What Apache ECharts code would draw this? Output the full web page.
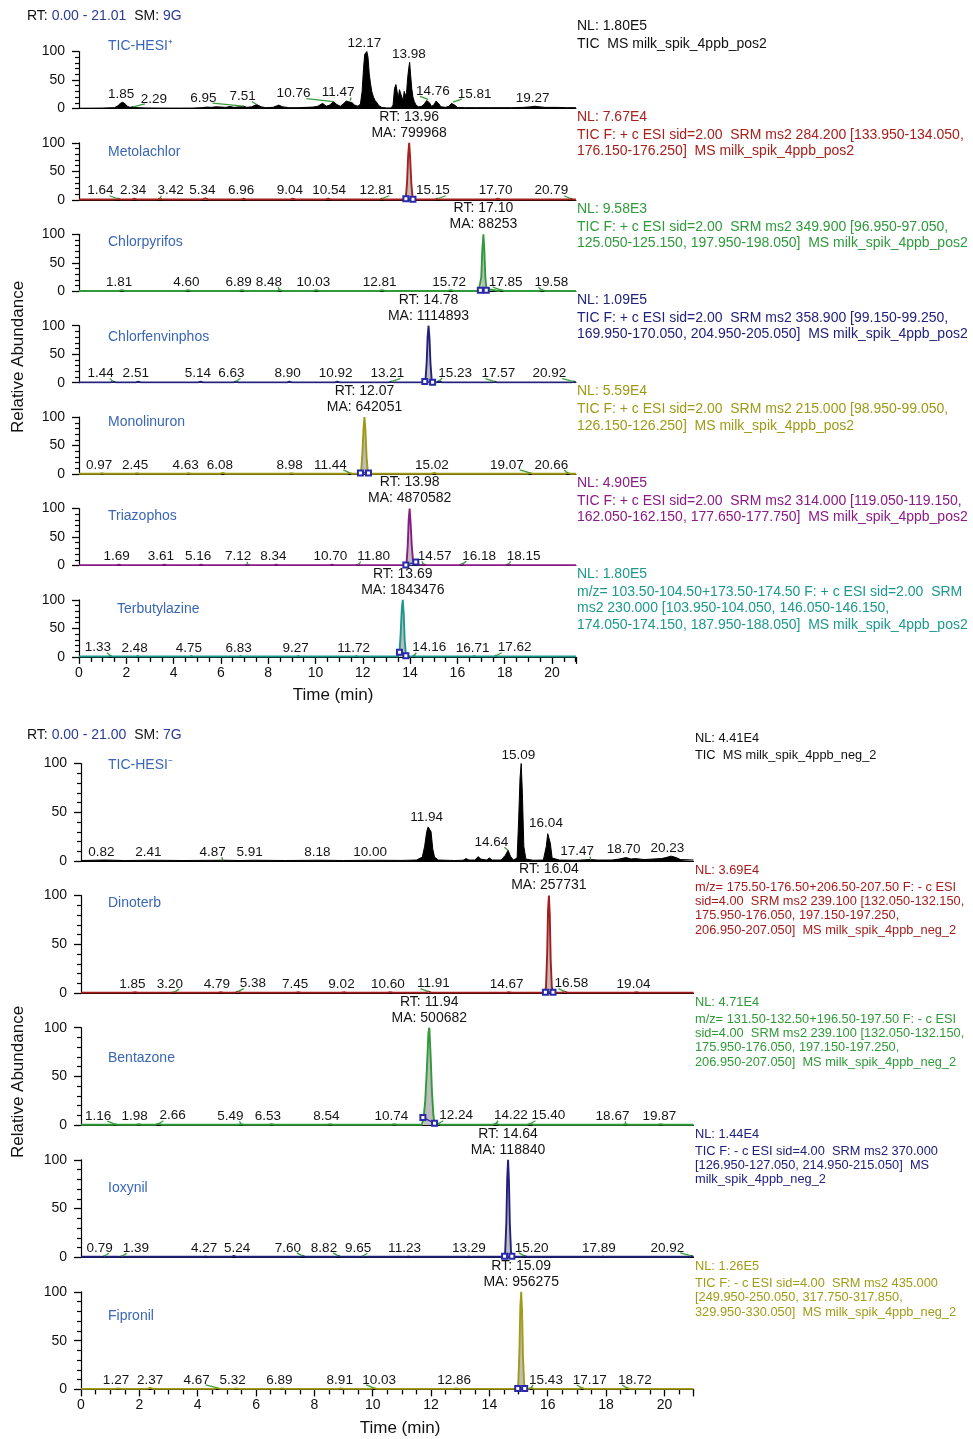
<!DOCTYPE html>
<html>
<head>
<meta charset="utf-8">
<script src="https://cdn.jsdelivr.net/npm/echarts@6/dist/echarts.min.js"></script>
<style>
  html, body { margin: 0; padding: 0; background: #fff; }
  #chart { width: 973px; height: 1439px; }
</style>
</head>
<body>
<div id="chart"></div>
<script>
// ---------- Positive-mode run (RT 0.00 - 21.01 min), relative abundance in % ----------
const ticPosPoints = [[0,0.5],[0.5,0.6],[1.0,0.8],[1.5,1.5],[1.65,5],[1.75,9],[1.85,11],[1.95,8],[2.05,4],[2.15,2],[2.29,3],[2.45,1.5],[2.8,1],[3.3,0.8],[3.8,0.7],[4.3,0.7],[4.8,0.8],[5.2,1.5],[5.4,2.5],[5.6,2],[5.8,3],[6.0,2.5],[6.2,2],[6.4,3.5],[6.55,2],[6.8,3],[6.95,4],[7.1,2],[7.3,3],[7.51,7],[7.7,3],[7.9,1.5],[8.2,2],[8.45,6],[8.6,3],[8.9,1.5],[9.3,1.5],[9.6,2],[9.9,2.5],[10.1,4],[10.3,9],[10.45,4],[10.6,6],[10.76,12],[10.9,7],[11.05,4],[11.2,9],[11.3,13],[11.4,12],[11.47,14],[11.55,10],[11.65,6],[11.8,4],[11.9,8],[11.97,30],[12.03,70],[12.08,95],[12.13,97],[12.17,100],[12.22,90],[12.27,62],[12.32,45],[12.38,30],[12.45,20],[12.52,14],[12.6,10],[12.68,5],[12.8,2],[13.0,1],[13.2,1],[13.28,6],[13.34,35],[13.4,42],[13.45,30],[13.5,18],[13.55,33],[13.6,36],[13.65,20],[13.7,14],[13.75,30],[13.8,22],[13.85,28],[13.9,55],[13.94,70],[13.98,81],[14.02,60],[14.07,35],[14.12,20],[14.18,12],[14.25,6],[14.35,3],[14.5,4],[14.6,8],[14.7,14],[14.76,16],[14.82,10],[14.9,4],[15.0,6],[15.1,13],[15.16,15],[15.22,8],[15.3,3],[15.5,2],[15.65,4],[15.75,9],[15.81,11],[15.88,6],[16.0,2],[16.3,1.5],[16.8,1.5],[17.3,1.5],[17.8,1.5],[18.3,1.5],[18.8,2],[19.1,3],[19.27,4],[19.45,3],[19.7,2],[20.2,2],[20.6,1.5],[21.01,1.5]];
const ticPosPeakRt = [1.85, 2.29, 6.95, 7.51, 10.76, 11.47, 12.17, 13.98, 14.76, 15.81, 19.27];

const metolachlorPoints = [[0,0.6],[1.5,0.6],[1.64,2],[1.8,0.6],[2.2,0.6],[2.34,2],[2.5,0.6],[3.3,0.6],[3.42,2],[3.55,0.6],[5.2,0.6],[5.34,2.5],[5.5,0.6],[6.85,0.6],[6.96,2],[7.1,0.6],[8.9,0.6],[9.04,2],[9.2,0.6],[10.4,0.6],[10.54,2],[10.7,0.6],[12.7,0.6],[12.81,2],[12.95,0.6],[13.75,0.6],[13.82,5],[13.87,30],[13.92,80],[13.96,100],[14.0,75],[14.05,30],[14.1,6],[14.16,0.6],[15.05,0.6],[15.15,2],[15.3,0.6],[17.6,0.6],[17.7,2],[17.85,0.6],[20.65,0.6],[20.79,2],[20.9,0.6],[21.01,0.6]];
const metolachlorPeakRt = [1.64, 2.34, 3.42, 5.34, 6.96, 9.04, 10.54, 12.81, 15.15, 17.70, 20.79];
const metolachlorMain = [13.96, 799968];
const metolachlorInteg = [[13.82, 2], [14.12, 1]];

const chlorpyrifosPoints = [[0,0.6],[1.7,0.6],[1.81,2],[1.95,0.6],[4.5,0.6],[4.60,2],[4.72,0.6],[6.78,0.6],[6.89,2],[7.0,0.6],[8.38,0.6],[8.48,2],[8.6,0.6],[9.92,0.6],[10.03,2],[10.15,0.6],[12.7,0.6],[12.81,2],[12.93,0.6],[15.6,0.6],[15.72,2],[15.85,0.6],[16.9,0.6],[16.96,4],[17.01,25],[17.05,70],[17.10,100],[17.14,70],[17.18,25],[17.23,4],[17.3,0.6],[17.75,0.6],[17.85,2],[17.97,0.6],[19.47,0.6],[19.58,2],[19.7,0.6],[21.01,0.6]];
const chlorpyrifosPeakRt = [1.81, 4.60, 6.89, 8.48, 10.03, 12.81, 15.72, 17.85, 19.58];
const chlorpyrifosMain = [17.10, 88253];
const chlorpyrifosInteg = [[16.97, 2], [17.22, 2]];

const chlorfenvinphosPoints = [[0,0.6],[1.34,0.6],[1.44,2],[1.56,0.6],[2.4,0.6],[2.51,2],[2.62,0.6],[5.03,0.6],[5.14,2],[5.25,0.6],[6.52,0.6],[6.63,2],[6.75,0.6],[8.8,0.6],[8.90,2],[9.0,0.6],[10.82,0.6],[10.92,2],[11.03,0.6],[13.1,0.6],[13.21,2],[13.32,0.6],[14.6,0.6],[14.65,5],[14.7,35],[14.74,80],[14.78,100],[14.82,78],[14.86,35],[14.91,6],[14.97,0.6],[15.12,0.6],[15.23,3],[15.35,0.6],[17.46,0.6],[17.57,2],[17.68,0.6],[20.82,0.6],[20.92,2],[21.01,0.6]];
const chlorfenvinphosPeakRt = [1.44, 2.51, 5.14, 6.63, 8.90, 10.92, 13.21, 15.23, 17.57, 20.92];
const chlorfenvinphosMain = [14.78, 1114893];
const chlorfenvinphosInteg = [[14.62, 2], [14.95, 1]];

const monolinuronPoints = [[0,0.6],[0.87,0.6],[0.97,1.5],[1.08,0.6],[2.35,0.6],[2.45,1.5],[2.56,0.6],[4.52,0.6],[4.63,1.5],[4.74,0.6],[5.97,0.6],[6.08,2],[6.2,0.6],[8.87,0.6],[8.98,1.5],[9.1,0.6],[11.33,0.6],[11.44,2],[11.55,0.6],[11.88,0.6],[11.93,5],[11.98,35],[12.03,80],[12.07,100],[12.11,78],[12.16,30],[12.21,5],[12.27,0.6],[14.91,0.6],[15.02,2],[15.14,0.6],[18.96,0.6],[19.07,2],[19.18,0.6],[20.55,0.6],[20.66,2],[20.78,0.6],[21.01,0.6]];
const monolinuronPeakRt = [0.97, 2.45, 4.63, 6.08, 8.98, 11.44, 15.02, 19.07, 20.66];
const monolinuronMain = [12.07, 642051];
const monolinuronInteg = [[11.9, 2], [12.24, 2]];

const triazophosPoints = [[0,0.6],[1.58,0.6],[1.69,1.5],[1.8,0.6],[3.5,0.6],[3.61,1.5],[3.72,0.6],[5.05,0.6],[5.16,1.5],[5.27,0.6],[7.01,0.6],[7.12,1.5],[7.23,0.6],[8.23,0.6],[8.34,1.5],[8.45,0.6],[10.59,0.6],[10.70,1.5],[10.81,0.6],[11.69,0.6],[11.80,1.5],[11.91,0.6],[13.8,0.6],[13.85,5],[13.9,35],[13.94,80],[13.98,100],[14.02,75],[14.07,35],[14.12,10],[14.18,3],[14.26,0.6],[14.46,0.6],[14.57,2],[14.68,0.6],[16.07,0.6],[16.18,2],[16.29,0.6],[18.04,0.6],[18.15,2],[18.26,0.6],[21.01,0.6]];
const triazophosPeakRt = [1.69, 3.61, 5.16, 7.12, 8.34, 10.70, 11.80, 14.57, 16.18, 18.15];
const triazophosMain = [13.98, 4870582];
const triazophosInteg = [[13.82, 1], [14.24, 6]];

const terbutylazinePoints = [[0,0.6],[1.22,0.6],[1.33,2],[1.44,0.6],[2.37,0.6],[2.48,1.5],[2.59,0.6],[4.64,0.6],[4.75,1.5],[4.86,0.6],[6.72,0.6],[6.83,1.5],[6.94,0.6],[9.16,0.6],[9.27,1.5],[9.38,0.6],[11.61,0.6],[11.72,1.5],[11.83,0.6],[13.5,0.6],[13.55,8],[13.6,40],[13.65,85],[13.69,100],[13.73,75],[13.77,30],[13.82,5],[13.88,0.6],[14.05,0.6],[14.16,2],[14.27,0.6],[16.6,0.6],[16.71,1.5],[16.82,0.6],[17.51,0.6],[17.62,2],[17.73,0.6],[21.01,0.6]];
const terbutylazinePeakRt = [1.33, 2.48, 4.75, 6.83, 9.27, 11.72, 14.16, 16.71, 17.62];
const terbutylazineMain = [13.69, 1843476];
const terbutylazineInteg = [[13.55, 8], [13.82, 2]];

// ---------- Negative-mode run (RT 0.00 - 21.00 min) ----------
const ticNegPoints = [[0,0.5],[0.82,1],[1.5,0.5],[2.41,0.8],[3.5,0.5],[4.87,0.8],[5.5,0.5],[5.91,0.8],[7,0.5],[8.18,0.8],[9,0.5],[10.0,0.8],[11.0,0.6],[11.5,1],[11.7,4],[11.78,15],[11.85,30],[11.9,35],[11.94,37],[12.0,30],[12.06,12],[12.12,4],[12.25,1],[12.8,0.5],[13.1,0.8],[13.2,2.5],[13.3,1],[13.5,1],[13.62,4.5],[13.7,2],[13.9,1],[14.0,3],[14.1,1],[14.4,1],[14.55,6],[14.64,11],[14.72,5],[14.82,1],[14.95,3],[15.0,40],[15.05,85],[15.09,100],[15.13,70],[15.18,15],[15.25,2],[15.5,0.8],[15.85,1],[15.95,15],[16.0,28],[16.04,30],[16.09,18],[16.15,3],[16.4,1],[17.0,0.8],[17.47,1.5],[17.7,1],[18.2,1],[18.45,2],[18.6,3],[18.70,3.5],[18.85,2],[19.0,2.5],[19.3,1.5],[19.6,2],[19.9,2.5],[20.05,3.5],[20.23,5],[20.4,3.5],[20.55,1.5],[21.0,1]];
const ticNegPeakRt = [0.82, 2.41, 4.87, 5.91, 8.18, 10.00, 11.94, 14.64, 15.09, 16.04, 17.47, 18.70, 20.23];

const dinoterbPoints = [[0,0.5],[1.75,0.5],[1.85,1],[1.95,0.5],[3.1,0.5],[3.20,1],[3.3,0.5],[4.69,0.5],[4.79,1],[4.89,0.5],[5.28,0.5],[5.38,1.5],[5.48,0.5],[7.35,0.5],[7.45,1],[7.55,0.5],[8.92,0.5],[9.02,1],[9.12,0.5],[10.5,0.5],[10.60,1],[10.7,0.5],[11.81,0.5],[11.91,1.5],[12.01,0.5],[14.57,0.5],[14.67,1],[14.77,0.5],[15.9,0.5],[15.94,6],[15.98,40],[16.01,85],[16.04,100],[16.07,80],[16.1,35],[16.14,6],[16.19,0.5],[16.48,0.5],[16.58,1.5],[16.68,0.5],[18.94,0.5],[19.04,1],[19.14,0.5],[21.0,0.5]];
const dinoterbPeakRt = [1.85, 3.20, 4.79, 5.38, 7.45, 9.02, 10.60, 11.91, 14.67, 16.58, 19.04];
const dinoterbMain = [16.04, 257731];
const dinoterbInteg = [[15.92, 1], [16.18, 1]];

const bentazonePoints = [[0,0.5],[1.06,0.5],[1.16,1],[1.26,0.5],[1.88,0.5],[1.98,1],[2.08,0.5],[2.56,0.5],[2.66,1.5],[2.76,0.5],[5.39,0.5],[5.49,1],[5.59,0.5],[6.43,0.5],[6.53,1],[6.63,0.5],[8.44,0.5],[8.54,1],[8.64,0.5],[10.64,0.5],[10.74,1],[10.84,0.5],[11.68,0.5],[11.74,6],[11.8,25],[11.86,60],[11.91,95],[11.94,100],[11.98,75],[12.03,35],[12.08,10],[12.12,2],[12.17,0.5],[12.24,1.5],[12.32,0.5],[14.12,0.5],[14.22,1.5],[14.32,0.5],[15.3,0.5],[15.40,1.5],[15.5,0.5],[18.57,0.5],[18.67,1],[18.77,0.5],[19.77,0.5],[19.87,1],[19.97,0.5],[21.0,0.5]];
const bentazonePeakRt = [1.16, 1.98, 2.66, 5.49, 6.53, 8.54, 10.74, 12.24, 14.22, 15.40, 18.67, 19.87];
const bentazoneMain = [11.94, 500682];
const bentazoneInteg = [[11.72, 8], [12.12, 2]];

const ioxynilPoints = [[0,0.5],[0.69,0.5],[0.79,1],[0.89,0.5],[1.29,0.5],[1.39,1],[1.49,0.5],[4.17,0.5],[4.27,1],[4.37,0.5],[5.14,0.5],[5.24,1.5],[5.34,0.5],[7.5,0.5],[7.60,1.5],[7.7,0.5],[8.72,0.5],[8.82,1.5],[8.92,0.5],[9.55,0.5],[9.65,1],[9.75,0.5],[11.13,0.5],[11.23,1],[11.33,0.5],[13.19,0.5],[13.29,1],[13.39,0.5],[14.5,0.5],[14.54,5],[14.58,35],[14.61,80],[14.64,100],[14.67,78],[14.7,35],[14.74,6],[14.79,0.5],[15.1,0.5],[15.20,1.5],[15.3,0.5],[17.79,0.5],[17.89,1],[17.99,0.5],[20.82,0.5],[20.92,1.5],[21.0,0.5]];
const ioxynilPeakRt = [0.79, 1.39, 4.27, 5.24, 7.60, 8.82, 9.65, 11.23, 13.29, 15.20, 17.89, 20.92];
const ioxynilMain = [14.64, 118840];
const ioxynilInteg = [[14.52, 1], [14.77, 1]];

const fipronilPoints = [[0,0.5],[1.17,0.5],[1.27,1],[1.37,0.5],[2.27,0.5],[2.37,1.5],[2.47,0.5],[4.57,0.5],[4.67,1.5],[4.77,0.5],[5.22,0.5],[5.32,1],[5.42,0.5],[6.79,0.5],[6.89,1],[6.99,0.5],[8.81,0.5],[8.91,1],[9.01,0.5],[9.93,0.5],[10.03,1.5],[10.13,0.5],[12.76,0.5],[12.86,1],[12.96,0.5],[14.95,0.5],[14.99,6],[15.03,40],[15.06,85],[15.09,100],[15.12,80],[15.15,35],[15.19,6],[15.24,0.5],[15.33,0.5],[15.43,1.5],[15.53,0.5],[17.07,0.5],[17.17,1.5],[17.27,0.5],[18.62,0.5],[18.72,1.5],[18.82,0.5],[21.0,0.5]];
const fipronilPeakRt = [1.27, 2.37, 4.67, 5.32, 6.89, 8.91, 10.03, 12.86, 15.43, 17.17, 18.72];
const fipronilMain = [15.09, 956275];
const fipronilInteg = [[14.97, 1], [15.21, 1]];

// ---------- Label placement (RT in min where each peak label is centred) ----------
const ticPosLabelAt = [1.78, 3.17, 5.26, 6.92, 9.07, 10.96, 12.07, 13.95, 14.96, 16.73, 19.18];
const metolachlorLabelAt = [0.9, 2.29, 3.87, 5.22, 6.86, 8.92, 10.58, 12.57, 14.96, 17.62, 19.97];
const chlorpyrifosLabelAt = [1.70, 4.54, 6.75, 8.03, 9.91, 12.71, 15.65, 18.04, 19.97];
const chlorfenvinphosLabelAt = [0.91, 2.40, 5.03, 6.44, 8.82, 10.85, 13.04, 15.9, 17.73, 19.89];
const monolinuronLabelAt = [0.85, 2.37, 4.51, 5.96, 8.91, 10.63, 14.92, 18.09, 19.97];
const triazophosLabelAt = [1.59, 3.46, 5.04, 6.73, 8.22, 10.63, 12.46, 15.04, 16.92, 18.8];
const terbutylazineLabelAt = [0.80, 2.35, 4.65, 6.75, 9.16, 11.61, 14.81, 16.64, 18.42];
const ticNegLabelAt = [0.70, 2.31, 4.51, 5.78, 8.10, 9.91, 11.85, 14.07, 14.99, 15.94, 17.01, 18.6, 20.1];
const dinoterbLabelAt = [1.76, 3.05, 4.66, 5.89, 7.34, 8.93, 10.52, 12.08, 14.59, 16.81, 18.94];
const bentazoneLabelAt = [0.59, 1.84, 3.14, 5.12, 6.41, 8.41, 10.64, 12.86, 14.74, 16.02, 18.22, 19.83];
const ioxynilLabelAt = [0.64, 1.88, 4.22, 5.35, 7.09, 8.33, 9.5, 11.09, 13.3, 15.45, 17.75, 20.1];
const fipronilLabelAt = [1.2, 2.37, 3.96, 5.2, 6.8, 8.87, 10.22, 12.79, 15.94, 17.44, 18.99];

// ---------- Scan filter / normalisation texts ----------
const posTexts = [
  ['NL: 1.80E5', 'TIC  MS milk_spik_4ppb_pos2'],
  ['NL: 7.67E4', 'TIC F: + c ESI sid=2.00  SRM ms2 284.200 [133.950-134.050,', '176.150-176.250]  MS milk_spik_4ppb_pos2'],
  ['NL: 9.58E3', 'TIC F: + c ESI sid=2.00  SRM ms2 349.900 [96.950-97.050,', '125.050-125.150, 197.950-198.050]  MS milk_spik_4ppb_pos2'],
  ['NL: 1.09E5', 'TIC F: + c ESI sid=2.00  SRM ms2 358.900 [99.150-99.250,', '169.950-170.050, 204.950-205.050]  MS milk_spik_4ppb_pos2'],
  ['NL: 5.59E4', 'TIC F: + c ESI sid=2.00  SRM ms2 215.000 [98.950-99.050,', '126.150-126.250]  MS milk_spik_4ppb_pos2'],
  ['NL: 4.90E5', 'TIC F: + c ESI sid=2.00  SRM ms2 314.000 [119.050-119.150,', '162.050-162.150, 177.650-177.750]  MS milk_spik_4ppb_pos2'],
  ['NL: 1.80E5', 'm/z= 103.50-104.50+173.50-174.50 F: + c ESI sid=2.00  SRM', 'ms2 230.000 [103.950-104.050, 146.050-146.150,', '174.050-174.150, 187.950-188.050]  MS milk_spik_4ppb_pos2']
];
const negTexts = [
  ['NL: 4.41E4', 'TIC  MS milk_spik_4ppb_neg_2'],
  ['NL: 3.69E4', 'm/z= 175.50-176.50+206.50-207.50 F: - c ESI', 'sid=4.00  SRM ms2 239.100 [132.050-132.150,', '175.950-176.050, 197.150-197.250,', '206.950-207.050]  MS milk_spik_4ppb_neg_2'],
  ['NL: 4.71E4', 'm/z= 131.50-132.50+196.50-197.50 F: - c ESI', 'sid=4.00  SRM ms2 239.100 [132.050-132.150,', '175.950-176.050, 197.150-197.250,', '206.950-207.050]  MS milk_spik_4ppb_neg_2'],
  ['NL: 1.44E4', 'TIC F: - c ESI sid=4.00  SRM ms2 370.000', '[126.950-127.050, 214.950-215.050]  MS', 'milk_spik_4ppb_neg_2'],
  ['NL: 1.26E5', 'TIC F: - c ESI sid=4.00  SRM ms2 435.000', '[249.950-250.050, 317.750-317.850,', '329.950-330.050]  MS milk_spik_4ppb_neg_2']
];

// ---------- Assemble traces ----------
const FONT = '"Liberation Sans", Arial, sans-serif';
const NAME_COLOR = '#3a66b6';
const PEAK_FONT = 13.5;
const MAIN_FONT = 14;

const runs = [
  {
    header: ['0.00 - 21.01', '9G'], headerY: 16,
    left: 79, top: 51.5, step: 91.4, height: 57, xMax: 21.01, width: 496.9,
    textX: 577, textFont: 14, nlGap: 18, lineH: 16.2,
    timeLabel: [333, 695], abundanceY: 357,
    traces: [
      { name: 'TIC-HESI\u207A', nameX: 108, nameDy: -5.5, color: '#000', tic: true, pts: ticPosPoints, peaks: ticPosPeakRt, labelAt: ticPosLabelAt, text: posTexts[0] },
      { name: 'Metolachlor', nameX: 108, nameDy: 9, color: '#a8201c', pts: metolachlorPoints, peaks: metolachlorPeakRt, labelAt: metolachlorLabelAt, main: metolachlorMain, integ: metolachlorInteg, text: posTexts[1] },
      { name: 'Chlorpyrifos', nameX: 108, nameDy: 8, color: '#2f9a3c', pts: chlorpyrifosPoints, peaks: chlorpyrifosPeakRt, labelAt: chlorpyrifosLabelAt, main: chlorpyrifosMain, integ: chlorpyrifosInteg, text: posTexts[2] },
      { name: 'Chlorfenvinphos', nameX: 108, nameDy: 11, color: '#22227c', pts: chlorfenvinphosPoints, peaks: chlorfenvinphosPeakRt, labelAt: chlorfenvinphosLabelAt, main: chlorfenvinphosMain, integ: chlorfenvinphosInteg, text: posTexts[3] },
      { name: 'Monolinuron', nameX: 108, nameDy: 5, color: '#9e9a16', pts: monolinuronPoints, peaks: monolinuronPeakRt, labelAt: monolinuronLabelAt, main: monolinuronMain, integ: monolinuronInteg, text: posTexts[4] },
      { name: 'Triazophos', nameX: 108, nameDy: 8, color: '#8a1a86', pts: triazophosPoints, peaks: triazophosPeakRt, labelAt: triazophosLabelAt, main: triazophosMain, integ: triazophosInteg, text: posTexts[5] },
      { name: 'Terbutylazine', nameX: 117, nameDy: 9, color: '#1c988e', pts: terbutylazinePoints, peaks: terbutylazinePeakRt, labelAt: terbutylazineLabelAt, main: terbutylazineMain, integ: terbutylazineInteg, text: posTexts[6] }
    ]
  },
  {
    header: ['0.00 - 21.00', '7G'], headerY: 735,
    left: 81, top: 763.5, step: 132.1, height: 97.5, xMax: 21.0, width: 612.6,
    textX: 695, textFont: 12.8, nlGap: 17, lineH: 14.3,
    timeLabel: [400, 1428], abundanceY: 1082,
    traces: [
      { name: 'TIC-HESI\u207B', nameX: 108, nameDy: 1.5, color: '#000', tic: true, pts: ticNegPoints, peaks: ticNegPeakRt, labelAt: ticNegLabelAt, text: negTexts[0] },
      { name: 'Dinoterb', nameX: 108, nameDy: 8, color: '#a61c1c', pts: dinoterbPoints, peaks: dinoterbPeakRt, labelAt: dinoterbLabelAt, main: dinoterbMain, integ: dinoterbInteg, text: negTexts[1] },
      { name: 'Bentazone', nameX: 108, nameDy: 30, color: '#2f9a38', pts: bentazonePoints, peaks: bentazonePeakRt, labelAt: bentazoneLabelAt, main: bentazoneMain, integ: bentazoneInteg, text: negTexts[2] },
      { name: 'Ioxynil', nameX: 108, nameDy: 28, color: '#20207e', pts: ioxynilPoints, peaks: ioxynilPeakRt, labelAt: ioxynilLabelAt, main: ioxynilMain, integ: ioxynilInteg, text: negTexts[3] },
      { name: 'Fipronil', nameX: 108, nameDy: 24, color: '#a09c18', pts: fipronilPoints, peaks: fipronilPeakRt, labelAt: fipronilLabelAt, main: fipronilMain, integ: fipronilInteg, text: negTexts[4] }
    ]
  }
];

const grid = [], xAxis = [], yAxis = [], series = [], graphic = [];

function heightAt(pts, rt) {
  const p = pts.find(q => Math.abs(q[0] - rt) < 1e-9);
  return p ? p[1] : 0;
}

// retention-time label with a green leader back to its peak
function renderPeakLabel(params, api) {
  const rt = api.value(0), h = api.value(1), at = api.value(2);
  const p = api.coord([rt, h]);
  const q = api.coord([at, h]);
  const txt = rt.toFixed(2);
  const w = ((txt.length - 1) * 0.556 + 0.278) * PEAK_FONT;
  const children = [{
    type: 'text',
    style: { text: txt, x: q[0], y: p[1] - 1, align: 'center', verticalAlign: 'bottom', fill: '#141414', font: PEAK_FONT + 'px ' + FONT }
  }];
  if (Math.abs(at - rt) > 0.15) {
    const sgn = rt > at ? 1 : -1;
    children.push({
      type: 'line',
      shape: { x1: q[0] + sgn * (w / 2 - 4), y1: p[1] - 3, x2: p[0], y2: p[1] },
      style: { stroke: '#3c9b3c', lineWidth: 1.3 }
    });
  }
  return { type: 'group', children };
}

function renderMainLabel(params, api) {
  const rt = api.value(0), h = api.value(1), ma = api.value(2);
  const p = api.coord([rt, h]);
  return {
    type: 'text',
    style: {
      text: 'RT: ' + rt.toFixed(2) + '\nMA: ' + ma,
      x: p[0], y: p[1] - 2, align: 'center', verticalAlign: 'bottom',
      fill: '#141414', font: MAIN_FONT + 'px ' + FONT, lineHeight: 16
    }
  };
}

let gi = 0;
runs.forEach(run => {
  const last = run.traces.length - 1;
  // run header
  graphic.push({
    type: 'text', x: 27, y: run.headerY,
    style: {
      text: '{k|RT: }{v|' + run.header[0] + '}{k|  SM: }{v|' + run.header[1] + '}',
      verticalAlign: 'middle', font: '14px ' + FONT,
      rich: { k: { fill: '#111', font: '14px ' + FONT }, v: { fill: '#2b3a96', font: '14px ' + FONT } }
    }
  });
  graphic.push({
    type: 'text', x: 18, y: run.abundanceY, rotation: Math.PI / 2,
    style: { text: 'Relative Abundance', align: 'center', verticalAlign: 'middle', fill: '#111', font: '17px ' + FONT }
  });
  graphic.push({
    type: 'text', x: run.timeLabel[0], y: run.timeLabel[1],
    style: { text: 'Time (min)', align: 'center', verticalAlign: 'middle', fill: '#111', font: '17px ' + FONT }
  });

  run.traces.forEach((tr, i) => {
    const top = run.top + i * run.step;
    const isLast = i === last;
    grid.push({ left: run.left, top: top, width: run.width, height: run.height });
    xAxis.push({
      type: 'value', gridIndex: gi, min: 0, max: run.xMax, interval: 2,
      axisLine: { show: true, lineStyle: { color: '#000', width: 1.2 } },
      axisTick: { show: isLast, length: 7, lineStyle: { color: '#000', width: 1.3 } },
      minorTick: { show: isLast, splitNumber: 4, length: 5, lineStyle: { color: '#000', width: 1.3 } },
      axisLabel: {
        show: isLast, fontSize: 14, color: '#111', margin: 9, fontFamily: FONT,
        showMaxLabel: false,
        formatter: v => (Math.abs(v % 2) < 1e-9 ? String(v) : '')
      },
      splitLine: { show: false }, minorSplitLine: { show: false }
    });
    yAxis.push({
      type: 'value', gridIndex: gi, min: 0, max: 100, interval: 50,
      axisLine: { show: true, lineStyle: { color: '#000', width: 1.2 } },
      axisTick: { show: true, length: 7, lineStyle: { color: '#000', width: 1.3 } },
      minorTick: { show: true, splitNumber: 5, length: 4, lineStyle: { color: '#000', width: 1.2 } },
      axisLabel: { fontSize: 14, color: '#111', margin: 14, fontFamily: FONT },
      splitLine: { show: false }, minorSplitLine: { show: false }
    });

    // integrated area under the main peak
    if (tr.main) {
      const a = tr.integ[0][0], b = tr.integ[1][0];
      series.push({
        type: 'line', xAxisIndex: gi, yAxisIndex: gi, z: 2, silent: true,
        data: tr.pts.filter(p => p[0] >= a && p[0] <= b),
        showSymbol: false, lineStyle: { width: 0 },
        areaStyle: { color: '#bdbdbd', opacity: 1 }
      });
    }
    // chromatogram trace
    series.push({
      type: 'line', xAxisIndex: gi, yAxisIndex: gi, z: 3, silent: true,
      data: tr.pts, showSymbol: false,
      lineStyle: { color: tr.color, width: tr.tic ? 1 : 1.9 },
      areaStyle: tr.tic ? { color: '#000', opacity: 1 } : undefined
    });
    // integration baseline with start/end markers
    if (tr.integ) {
      series.push({
        type: 'line', xAxisIndex: gi, yAxisIndex: gi, z: 4, silent: true,
        data: tr.integ, symbol: 'emptyRect', symbolSize: 5, showSymbol: true,
        lineStyle: { color: '#2a2aa8', width: 1.3 },
        itemStyle: { color: '#2a2aa8', borderWidth: 1.3 }
      });
    }
    // retention-time labels
    series.push({
      type: 'custom', xAxisIndex: gi, yAxisIndex: gi, z: 5, silent: true, clip: false,
      renderItem: renderPeakLabel, encode: { x: 0, y: 1 },
      data: tr.peaks.map((rt, k) => [rt, heightAt(tr.pts, rt), tr.labelAt[k]])
    });
    if (tr.main) {
      series.push({
        type: 'custom', xAxisIndex: gi, yAxisIndex: gi, z: 5, silent: true, clip: false,
        renderItem: renderMainLabel, encode: { x: 0, y: 1 },
        data: [[tr.main[0], heightAt(tr.pts, tr.main[0]), tr.main[1]]]
      });
    }

    // compound name
    graphic.push({
      type: 'text', x: tr.nameX, y: top + tr.nameDy,
      style: { text: tr.name, verticalAlign: 'middle', fill: NAME_COLOR, font: '14px ' + FONT }
    });
    // NL + scan filter text
    const tc = tr.tic ? '#111' : tr.color;
    const nlY = top - 25.5;
    graphic.push({
      type: 'text', x: run.textX, y: nlY,
      style: { text: tr.text[0], verticalAlign: 'middle', fill: tc, font: run.textFont + 'px ' + FONT }
    });
    tr.text.slice(1).forEach((line, k) => {
      graphic.push({
        type: 'text', x: run.textX, y: nlY + run.nlGap + k * run.lineH,
        style: { text: line, verticalAlign: 'middle', fill: tc, font: run.textFont + 'px ' + FONT }
      });
    });
    gi++;
  });
});

const chart = echarts.init(document.getElementById('chart'), null, { renderer: 'canvas' });
chart.setOption({
  backgroundColor: '#fff',
  animation: false,
  grid, xAxis, yAxis, series, graphic
});
</script>
</body>
</html>
